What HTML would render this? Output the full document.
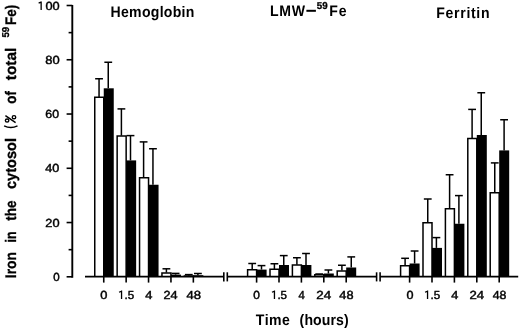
<!DOCTYPE html>
<html><head><meta charset="utf-8"><style>
html,body{margin:0;padding:0;background:#fff;width:520px;height:328px;overflow:hidden}
svg{display:block;will-change:transform}
text{font-family:"Liberation Sans",sans-serif;fill:#000;text-rendering:geometricPrecision}
.tl{font-size:11.7px;font-weight:normal;stroke:#000;stroke-width:0.45px}
.tt{font-size:15.3px;font-weight:bold}
.ty{stroke:#000;stroke-width:0.3px}
.sup{font-size:10px;font-weight:bold}
</style></head><body>
<svg width="520" height="328" viewBox="0 0 520 328">
<rect width="520" height="328" fill="#fff"/>
<line x1="72.30" y1="4.90" x2="72.30" y2="277.70" stroke="#000" stroke-width="1.9"/>
<line x1="66.60" y1="276.80" x2="72.30" y2="276.80" stroke="#000" stroke-width="1.6"/>
<line x1="68.60" y1="249.67" x2="72.30" y2="249.67" stroke="#000" stroke-width="1.6"/>
<line x1="66.60" y1="222.54" x2="72.30" y2="222.54" stroke="#000" stroke-width="1.6"/>
<line x1="68.60" y1="195.41" x2="72.30" y2="195.41" stroke="#000" stroke-width="1.6"/>
<line x1="66.60" y1="168.28" x2="72.30" y2="168.28" stroke="#000" stroke-width="1.6"/>
<line x1="68.60" y1="141.15" x2="72.30" y2="141.15" stroke="#000" stroke-width="1.6"/>
<line x1="66.60" y1="114.02" x2="72.30" y2="114.02" stroke="#000" stroke-width="1.6"/>
<line x1="68.60" y1="86.89" x2="72.30" y2="86.89" stroke="#000" stroke-width="1.6"/>
<line x1="66.60" y1="59.76" x2="72.30" y2="59.76" stroke="#000" stroke-width="1.6"/>
<line x1="68.60" y1="32.63" x2="72.30" y2="32.63" stroke="#000" stroke-width="1.6"/>
<line x1="66.60" y1="5.50" x2="72.30" y2="5.50" stroke="#000" stroke-width="1.6"/>
<text x="53.27" y="280.80" class="tl" textLength="6.43" lengthAdjust="spacingAndGlyphs">0</text>
<text x="45.38" y="226.54" class="tl" textLength="14.23" lengthAdjust="spacingAndGlyphs">20</text>
<text x="45.37" y="172.28" class="tl" textLength="14.03" lengthAdjust="spacingAndGlyphs">40</text>
<text x="45.34" y="118.02" class="tl" textLength="13.67" lengthAdjust="spacingAndGlyphs">60</text>
<text x="45.33" y="63.76" class="tl" textLength="14.4" lengthAdjust="spacingAndGlyphs">80</text>
<path d="M41.15 1.40 V10.00 M41.35 1.95 L38.65 3.15" stroke="#000" stroke-width="1.3" fill="none"/>
<text x="45.48" y="9.50" class="tl" textLength="14.21" lengthAdjust="spacingAndGlyphs">00</text>
<path d="M94.75 276.8 V97.25 H103.75 V276.8" fill="#fff" stroke="#000" stroke-width="1.5"/>
<line x1="99.05" y1="96.90" x2="99.05" y2="78.75" stroke="#000" stroke-width="1.5"/>
<line x1="95.15" y1="78.75" x2="102.95" y2="78.75" stroke="#000" stroke-width="1.5"/>
<rect x="103.75" y="88.30" width="10.00" height="188.70" fill="#000"/>
<line x1="108.25" y1="88.30" x2="108.25" y2="62.25" stroke="#000" stroke-width="1.5"/>
<line x1="104.35" y1="62.25" x2="112.15" y2="62.25" stroke="#000" stroke-width="1.5"/>
<line x1="103.75" y1="276.80" x2="103.75" y2="282.60" stroke="#000" stroke-width="1.6"/>
<text x="100.34" y="298.60" class="tl" textLength="7.16" lengthAdjust="spacingAndGlyphs">0</text>
<path d="M117.15 276.8 V135.95 H126.15 V276.8" fill="#fff" stroke="#000" stroke-width="1.5"/>
<line x1="121.40" y1="135.60" x2="121.40" y2="108.90" stroke="#000" stroke-width="1.5"/>
<line x1="117.50" y1="108.90" x2="125.30" y2="108.90" stroke="#000" stroke-width="1.5"/>
<rect x="126.15" y="160.40" width="10.00" height="116.60" fill="#000"/>
<line x1="130.50" y1="160.40" x2="130.50" y2="135.60" stroke="#000" stroke-width="1.5"/>
<line x1="126.60" y1="135.60" x2="134.40" y2="135.60" stroke="#000" stroke-width="1.5"/>
<line x1="126.15" y1="276.80" x2="126.15" y2="282.60" stroke="#000" stroke-width="1.6"/>
<path d="M121.55 290.50 V299.00 M121.75 291.05 L119.05 292.25" stroke="#000" stroke-width="1.3" fill="none"/>
<text x="124.62" y="298.60" class="tl" textLength="9.61" lengthAdjust="spacingAndGlyphs">.5</text>
<path d="M139.55 276.8 V177.85 H148.55 V276.8" fill="#fff" stroke="#000" stroke-width="1.5"/>
<line x1="143.60" y1="177.50" x2="143.60" y2="141.90" stroke="#000" stroke-width="1.5"/>
<line x1="139.70" y1="141.90" x2="147.50" y2="141.90" stroke="#000" stroke-width="1.5"/>
<rect x="148.55" y="184.75" width="10.00" height="92.25" fill="#000"/>
<line x1="152.95" y1="184.75" x2="152.95" y2="148.75" stroke="#000" stroke-width="1.5"/>
<line x1="149.05" y1="148.75" x2="156.85" y2="148.75" stroke="#000" stroke-width="1.5"/>
<line x1="148.55" y1="276.80" x2="148.55" y2="282.60" stroke="#000" stroke-width="1.6"/>
<text x="145.36" y="298.60" class="tl" textLength="7.17" lengthAdjust="spacingAndGlyphs">4</text>
<path d="M161.95 276.8 V272.95 H170.95 V276.8" fill="#fff" stroke="#000" stroke-width="1.5"/>
<line x1="166.40" y1="272.60" x2="166.40" y2="268.80" stroke="#000" stroke-width="1.5"/>
<line x1="162.50" y1="268.80" x2="170.30" y2="268.80" stroke="#000" stroke-width="1.5"/>
<rect x="170.95" y="274.60" width="10.00" height="2.40" fill="#000"/>
<line x1="175.60" y1="274.60" x2="175.60" y2="273.40" stroke="#000" stroke-width="1.5"/>
<line x1="171.70" y1="273.40" x2="179.50" y2="273.40" stroke="#000" stroke-width="1.5"/>
<line x1="170.95" y1="276.80" x2="170.95" y2="282.60" stroke="#000" stroke-width="1.6"/>
<text x="163.54" y="298.60" class="tl" textLength="14.1" lengthAdjust="spacingAndGlyphs">24</text>
<path d="M184.35 276.8 V275.95 H193.35 V276.8" fill="#fff" stroke="#000" stroke-width="1.5"/>
<line x1="188.80" y1="275.60" x2="188.80" y2="274.60" stroke="#000" stroke-width="1.5"/>
<line x1="184.90" y1="274.60" x2="192.70" y2="274.60" stroke="#000" stroke-width="1.5"/>
<rect x="193.35" y="275.20" width="10.00" height="1.80" fill="#000"/>
<line x1="197.90" y1="275.20" x2="197.90" y2="273.50" stroke="#000" stroke-width="1.5"/>
<line x1="194.00" y1="273.50" x2="201.80" y2="273.50" stroke="#000" stroke-width="1.5"/>
<line x1="193.35" y1="276.80" x2="193.35" y2="282.60" stroke="#000" stroke-width="1.6"/>
<text x="186.57" y="298.60" class="tl" textLength="14.55" lengthAdjust="spacingAndGlyphs">48</text>
<path d="M247.60 276.8 V269.75 H256.60 V276.8" fill="#fff" stroke="#000" stroke-width="1.5"/>
<line x1="252.20" y1="269.40" x2="252.20" y2="263.50" stroke="#000" stroke-width="1.5"/>
<line x1="248.30" y1="263.50" x2="256.10" y2="263.50" stroke="#000" stroke-width="1.5"/>
<rect x="256.60" y="269.60" width="10.00" height="7.40" fill="#000"/>
<line x1="261.50" y1="269.60" x2="261.50" y2="265.60" stroke="#000" stroke-width="1.5"/>
<line x1="257.60" y1="265.60" x2="265.40" y2="265.60" stroke="#000" stroke-width="1.5"/>
<line x1="256.60" y1="276.80" x2="256.60" y2="282.60" stroke="#000" stroke-width="1.6"/>
<text x="253.33" y="298.60" class="tl" textLength="6.64" lengthAdjust="spacingAndGlyphs">0</text>
<path d="M270.00 276.8 V269.35 H279.00 V276.8" fill="#fff" stroke="#000" stroke-width="1.5"/>
<line x1="274.40" y1="269.00" x2="274.40" y2="263.75" stroke="#000" stroke-width="1.5"/>
<line x1="270.50" y1="263.75" x2="278.30" y2="263.75" stroke="#000" stroke-width="1.5"/>
<rect x="279.00" y="265.00" width="10.00" height="12.00" fill="#000"/>
<line x1="283.75" y1="265.00" x2="283.75" y2="255.60" stroke="#000" stroke-width="1.5"/>
<line x1="279.85" y1="255.60" x2="287.65" y2="255.60" stroke="#000" stroke-width="1.5"/>
<line x1="279.00" y1="276.80" x2="279.00" y2="282.60" stroke="#000" stroke-width="1.6"/>
<path d="M274.45 290.50 V299.00 M274.65 291.05 L271.95 292.25" stroke="#000" stroke-width="1.3" fill="none"/>
<text x="277.41" y="298.60" class="tl" textLength="9.61" lengthAdjust="spacingAndGlyphs">.5</text>
<path d="M292.40 276.8 V265.10 H301.40 V276.8" fill="#fff" stroke="#000" stroke-width="1.5"/>
<line x1="296.90" y1="264.75" x2="296.90" y2="257.75" stroke="#000" stroke-width="1.5"/>
<line x1="293.00" y1="257.75" x2="300.80" y2="257.75" stroke="#000" stroke-width="1.5"/>
<rect x="301.40" y="265.00" width="10.00" height="12.00" fill="#000"/>
<line x1="306.00" y1="265.00" x2="306.00" y2="253.50" stroke="#000" stroke-width="1.5"/>
<line x1="302.10" y1="253.50" x2="309.90" y2="253.50" stroke="#000" stroke-width="1.5"/>
<line x1="301.40" y1="276.80" x2="301.40" y2="282.60" stroke="#000" stroke-width="1.6"/>
<text x="298.40" y="298.60" class="tl" textLength="6.3" lengthAdjust="spacingAndGlyphs">4</text>
<path d="M314.80 276.8 V274.75 H323.80 V276.8" fill="#fff" stroke="#000" stroke-width="1.5"/>
<line x1="319.20" y1="274.40" x2="319.20" y2="274.00" stroke="#000" stroke-width="1.5"/>
<line x1="315.30" y1="274.00" x2="323.10" y2="274.00" stroke="#000" stroke-width="1.5"/>
<rect x="323.80" y="273.50" width="10.00" height="3.50" fill="#000"/>
<line x1="328.40" y1="273.50" x2="328.40" y2="270.00" stroke="#000" stroke-width="1.5"/>
<line x1="324.50" y1="270.00" x2="332.30" y2="270.00" stroke="#000" stroke-width="1.5"/>
<line x1="323.80" y1="276.80" x2="323.80" y2="282.60" stroke="#000" stroke-width="1.6"/>
<text x="316.20" y="298.60" class="tl" textLength="14.95" lengthAdjust="spacingAndGlyphs">24</text>
<path d="M337.20 276.8 V270.95 H346.20 V276.8" fill="#fff" stroke="#000" stroke-width="1.5"/>
<line x1="341.90" y1="270.60" x2="341.90" y2="265.25" stroke="#000" stroke-width="1.5"/>
<line x1="338.00" y1="265.25" x2="345.80" y2="265.25" stroke="#000" stroke-width="1.5"/>
<rect x="346.20" y="267.50" width="10.00" height="9.50" fill="#000"/>
<line x1="351.25" y1="267.50" x2="351.25" y2="256.90" stroke="#000" stroke-width="1.5"/>
<line x1="347.35" y1="256.90" x2="355.15" y2="256.90" stroke="#000" stroke-width="1.5"/>
<line x1="346.20" y1="276.80" x2="346.20" y2="282.60" stroke="#000" stroke-width="1.6"/>
<text x="339.39" y="298.60" class="tl" textLength="14.17" lengthAdjust="spacingAndGlyphs">48</text>
<path d="M400.60 276.8 V265.75 H409.60 V276.8" fill="#fff" stroke="#000" stroke-width="1.5"/>
<line x1="405.10" y1="265.40" x2="405.10" y2="258.30" stroke="#000" stroke-width="1.5"/>
<line x1="401.20" y1="258.30" x2="409.00" y2="258.30" stroke="#000" stroke-width="1.5"/>
<rect x="409.60" y="263.50" width="10.00" height="13.50" fill="#000"/>
<line x1="414.60" y1="263.50" x2="414.60" y2="251.00" stroke="#000" stroke-width="1.5"/>
<line x1="410.70" y1="251.00" x2="418.50" y2="251.00" stroke="#000" stroke-width="1.5"/>
<line x1="409.60" y1="276.80" x2="409.60" y2="282.60" stroke="#000" stroke-width="1.6"/>
<text x="406.60" y="298.60" class="tl" textLength="7.02" lengthAdjust="spacingAndGlyphs">0</text>
<path d="M423.00 276.8 V222.85 H432.00 V276.8" fill="#fff" stroke="#000" stroke-width="1.5"/>
<line x1="427.75" y1="222.50" x2="427.75" y2="199.00" stroke="#000" stroke-width="1.5"/>
<line x1="423.85" y1="199.00" x2="431.65" y2="199.00" stroke="#000" stroke-width="1.5"/>
<rect x="432.00" y="247.90" width="10.00" height="29.10" fill="#000"/>
<line x1="436.40" y1="247.90" x2="436.40" y2="237.60" stroke="#000" stroke-width="1.5"/>
<line x1="432.50" y1="237.60" x2="440.30" y2="237.60" stroke="#000" stroke-width="1.5"/>
<line x1="432.00" y1="276.80" x2="432.00" y2="282.60" stroke="#000" stroke-width="1.6"/>
<path d="M427.55 290.50 V299.00 M427.75 291.05 L425.05 292.25" stroke="#000" stroke-width="1.3" fill="none"/>
<text x="430.62" y="298.60" class="tl" textLength="9.61" lengthAdjust="spacingAndGlyphs">.5</text>
<path d="M445.40 276.8 V208.85 H454.40 V276.8" fill="#fff" stroke="#000" stroke-width="1.5"/>
<line x1="449.60" y1="208.50" x2="449.60" y2="174.75" stroke="#000" stroke-width="1.5"/>
<line x1="445.70" y1="174.75" x2="453.50" y2="174.75" stroke="#000" stroke-width="1.5"/>
<rect x="454.40" y="223.75" width="10.00" height="53.25" fill="#000"/>
<line x1="458.90" y1="223.75" x2="458.90" y2="195.60" stroke="#000" stroke-width="1.5"/>
<line x1="455.00" y1="195.60" x2="462.80" y2="195.60" stroke="#000" stroke-width="1.5"/>
<line x1="454.40" y1="276.80" x2="454.40" y2="282.60" stroke="#000" stroke-width="1.6"/>
<text x="451.34" y="298.60" class="tl" textLength="7.11" lengthAdjust="spacingAndGlyphs">4</text>
<path d="M467.80 276.8 V138.45 H476.80 V276.8" fill="#fff" stroke="#000" stroke-width="1.5"/>
<line x1="472.10" y1="138.10" x2="472.10" y2="109.40" stroke="#000" stroke-width="1.5"/>
<line x1="468.20" y1="109.40" x2="476.00" y2="109.40" stroke="#000" stroke-width="1.5"/>
<rect x="476.80" y="135.00" width="10.00" height="142.00" fill="#000"/>
<line x1="481.25" y1="135.00" x2="481.25" y2="92.75" stroke="#000" stroke-width="1.5"/>
<line x1="477.35" y1="92.75" x2="485.15" y2="92.75" stroke="#000" stroke-width="1.5"/>
<line x1="476.80" y1="276.80" x2="476.80" y2="282.60" stroke="#000" stroke-width="1.6"/>
<text x="469.51" y="298.60" class="tl" textLength="14.67" lengthAdjust="spacingAndGlyphs">24</text>
<path d="M490.20 276.8 V192.85 H499.20 V276.8" fill="#fff" stroke="#000" stroke-width="1.5"/>
<line x1="494.75" y1="192.50" x2="494.75" y2="162.90" stroke="#000" stroke-width="1.5"/>
<line x1="490.85" y1="162.90" x2="498.65" y2="162.90" stroke="#000" stroke-width="1.5"/>
<rect x="499.20" y="150.40" width="10.00" height="126.60" fill="#000"/>
<line x1="504.10" y1="150.40" x2="504.10" y2="119.75" stroke="#000" stroke-width="1.5"/>
<line x1="500.20" y1="119.75" x2="508.00" y2="119.75" stroke="#000" stroke-width="1.5"/>
<line x1="499.20" y1="276.80" x2="499.20" y2="282.60" stroke="#000" stroke-width="1.6"/>
<text x="492.68" y="298.60" class="tl" textLength="13.74" lengthAdjust="spacingAndGlyphs">48</text>
<line x1="85.00" y1="276.70" x2="223.80" y2="276.70" stroke="#000" stroke-width="1.8"/>
<line x1="227.30" y1="276.70" x2="376.60" y2="276.70" stroke="#000" stroke-width="1.8"/>
<line x1="380.10" y1="276.70" x2="518.20" y2="276.70" stroke="#000" stroke-width="1.8"/>
<line x1="223.80" y1="272.30" x2="223.80" y2="281.40" stroke="#000" stroke-width="1.6"/>
<line x1="227.30" y1="272.30" x2="227.30" y2="281.40" stroke="#000" stroke-width="1.6"/>
<line x1="376.60" y1="272.30" x2="376.60" y2="281.40" stroke="#000" stroke-width="1.6"/>
<line x1="380.10" y1="272.30" x2="380.10" y2="281.40" stroke="#000" stroke-width="1.6"/>
<text transform="rotate(-90) translate(-278.20,16.3) scale(1.0,1)" class="tt ty" textLength="26.13" lengthAdjust="spacingAndGlyphs">Iron</text>
<text transform="rotate(-90) translate(-242.44,16.3) scale(1.0,1)" class="tt ty" textLength="10.97" lengthAdjust="spacingAndGlyphs">in</text>
<text transform="rotate(-90) translate(-220.80,16.3) scale(1.0,1)" class="tt ty" textLength="20.36" lengthAdjust="spacingAndGlyphs">the</text>
<text transform="rotate(-90) translate(-189.08,16.3) scale(1.0,1)" class="tt ty" textLength="51.03" lengthAdjust="spacingAndGlyphs">cytosol</text>
<path d="M4.1 125.8 Q10.8 129.2 17.5 125.8" stroke="#000" stroke-width="1.45" fill="none"/>
<ellipse cx="7.1" cy="120.5" rx="1.75" ry="1.55" stroke="#000" stroke-width="1.35" fill="none"/>
<ellipse cx="14.0" cy="117.2" rx="1.75" ry="1.55" stroke="#000" stroke-width="1.35" fill="none"/>
<path d="M5.4 115.6 L15.6 122.7" stroke="#000" stroke-width="1.45" fill="none"/>
<text transform="rotate(-90) translate(-103.72,16.3) scale(1.0,1)" class="tt ty" textLength="12.63" lengthAdjust="spacingAndGlyphs">of</text>
<text transform="rotate(-90) translate(-80.24,16.3) scale(1.0,1)" class="tt ty" textLength="32.47" lengthAdjust="spacingAndGlyphs">total</text>
<text transform="rotate(-90)" x="-37.60" y="8.80" class="sup ty" textLength="10.73" lengthAdjust="spacingAndGlyphs">59</text>
<text transform="rotate(-90) translate(-25.01,16.3) scale(1.0,1)" class="tt ty" textLength="20.22" lengthAdjust="spacingAndGlyphs">Fe)</text>
<text transform="translate(110.56,17.2) scale(0.92,1)" class="tt" textLength="91.15" lengthAdjust="spacing">Hemoglobin</text>
<text transform="translate(269.99,15.6) scale(0.92,1)" class="tt" textLength="38.23" lengthAdjust="spacing">LMW</text>
<rect x="306.4" y="9.8" width="9.5" height="2.0" fill="#000"/>
<text x="316.72" y="8.8" class="sup ty" textLength="10.82" lengthAdjust="spacingAndGlyphs">59</text>
<text transform="translate(329.34,15.6) scale(0.92,1)" class="tt" textLength="18.66" lengthAdjust="spacing">Fe</text>
<text transform="translate(436.34,17.9) scale(0.92,1)" class="tt" textLength="57.86" lengthAdjust="spacing">Ferritin</text>
<text transform="translate(255.79,324.8) scale(0.92,1)" class="tt" textLength="37.08" lengthAdjust="spacing">Time</text>
<text transform="translate(299.62,324.8) scale(0.92,1)" class="tt" textLength="53.24" lengthAdjust="spacing">(hours)</text>
</svg>
</body></html>
